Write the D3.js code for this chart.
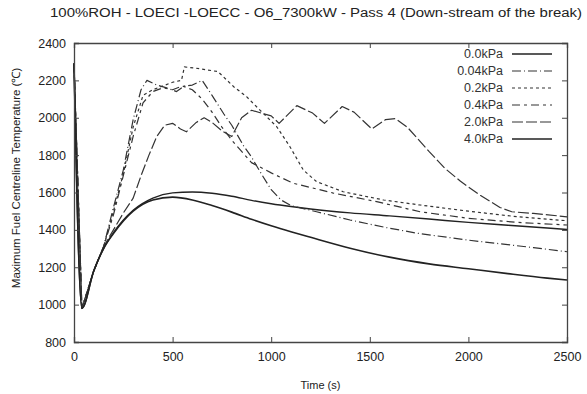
<!DOCTYPE html>
<html>
<head>
<meta charset="utf-8">
<script src="https://cdn.jsdelivr.net/npm/d3@7"></script>
<style>
  html, body { margin: 0; padding: 0; background: #fff; }
  svg { display: block; font-family: 'Liberation Sans', Arial, sans-serif; }
</style>
</head>
<body>
<div id="chart"></div>
<script>
const title = '100%ROH - LOECI -LOECC - O6_7300kW - Pass 4 (Down-stream of the break)'
const xTicks = [0, 500, 1000, 1500, 2000, 2500]
const yTicks = [800, 1000, 1200, 1400, 1600, 1800, 2000, 2200, 2400]
const seriesNames = ['0.0kPa', '0.04kPa', '0.2kPa', '0.4kPa', '2.0kPa', '4.0kPa']

// [time (s), temperature (C)]
const kpa00 = [[0,2290],[40,980],[100,1180],[150,1300],[200,1385],[300,1505],[400,1570],[500,1598],
  [600,1603],[700,1596],[800,1580],[900,1558],[1000,1540],[1100,1525],[1200,1512],[1400,1491],
  [1600,1475],[1800,1458],[2000,1440],[2200,1425],[2400,1410],[2500,1402]]
const kpa004 = [[0,2290],[40,980],[100,1180],[150,1310],[200,1520],[250,1720],[300,1990],[340,2150],
  [370,2200],[420,2175],[470,2160],[520,2140],[560,2170],[600,2175],[650,2200],[700,2120],
  [760,2020],[800,1960],[860,1850],[900,1790],[950,1700],[1000,1615],[1050,1560],[1100,1530],
  [1230,1497],[1400,1453],[1570,1415],[1740,1382],[2000,1345],[2330,1305],[2500,1283]]
const kpa02 = [[0,2290],[40,980],[100,1180],[150,1310],[200,1500],[250,1700],[300,1950],[350,2120],
  [400,2150],[450,2170],[500,2190],[545,2200],[560,2272],[620,2265],[730,2247],[810,2166],
  [875,2113],[943,2041],[1028,1952],[1095,1845],[1163,1720],[1230,1658],[1365,1604],
  [1570,1560],[1755,1533],[2000,1500],[2250,1470],[2500,1449]]
const kpa04 = [[0,2290],[40,980],[100,1180],[150,1310],[200,1480],[250,1690],[300,1900],[350,2080],
  [400,2140],[450,2160],[500,2150],[550,2170],[600,2150],[650,2100],[700,2030],[750,1950],
  [800,1880],[850,1820],[900,1760],[1000,1705],[1110,1650],[1315,1597],[1535,1551],
  [1755,1497],[2000,1462],[2250,1440],[2500,1426]]
const kpa20 = [[0,2290],[40,980],[100,1180],[150,1310],[200,1400],[250,1490],[300,1570],[340,1690],
  [380,1800],[420,1900],[460,1960],[500,1970],[540,1940],[570,1925],[620,1975],[660,2000],
  [700,1975],[750,1930],[800,1900],[850,2000],[900,2040],[1000,2010],[1040,1970],[1130,2065],
  [1210,2025],[1270,1970],[1360,2060],[1420,2030],[1510,1940],[1580,1990],[1630,1995],
  [1690,1950],[1800,1820],[1880,1730],[1960,1660],[2060,1585],[2160,1520],[2220,1497],
  [2330,1488],[2500,1470]]
const kpa40 = [[0,2290],[40,980],[100,1180],[150,1300],[200,1380],[300,1500],[400,1560],[500,1575],
  [600,1560],[700,1530],[800,1495],[900,1457],[1000,1422],[1100,1390],[1200,1360],[1400,1302],
  [1600,1254],[1800,1218],[2000,1192],[2200,1166],[2400,1142],[2500,1132]]

const seriesData = [kpa00, kpa004, kpa02, kpa04, kpa20, kpa40]

function drawChart() {
  const width = 587
  const height = 394
  const margin = { top: 43, right: 20, bottom: 52, left: 74 }
  const w = width - margin.left - margin.right
  const h = height - margin.top - margin.bottom
  const styles = [
    { dash: null, stroke: '#222', sw: 1.4 },
    { dash: '9,3,1,3', stroke: '#333', sw: 1.2 },
    { dash: '3,3', stroke: '#333', sw: 1.2 },
    { dash: '8,4,3,4', stroke: '#333', sw: 1.2 },
    { dash: '11,3', stroke: '#333', sw: 1.2 },
    { dash: null, stroke: '#222', sw: 1.6 }
  ]

  const x = d3.scaleLinear().domain([0, 2500]).range([0, w])
  const y = d3.scaleLinear().domain([800, 2400]).range([h, 0])

  const svg = d3.select('#chart').append('svg')
    .attr('width', width)
    .attr('height', height)

  svg.append('text')
    .attr('x', 316)
    .attr('y', 17)
    .attr('text-anchor', 'middle')
    .attr('font-size', 12)
    .attr('fill', '#222')
    .attr('textLength', 532)
    .attr('lengthAdjust', 'spacingAndGlyphs')
    .text(title)

  const g = svg.append('g')
    .attr('transform', 'translate(' + margin.left + ',' + margin.top + ')')

  // lines
  const line = d3.line()
    .x(d => x(d[0]))
    .y(d => y(d[1]))

  seriesData.forEach(function(data, i) {
    const s = styles[i]
    g.append('path')
      .datum(data)
      .attr('fill', 'none')
      .attr('stroke', s.stroke)
      .attr('stroke-width', s.sw)
      .attr('stroke-dasharray', s.dash)
      .attr('stroke-linejoin', 'round')
      .attr('d', line.curve(s.dash ? d3.curveLinear : d3.curveMonotoneX))
  })

  // axes with inward ticks, mirrored
  const axisColor = '#444'
  const fmt = d3.format('d')
  const axB = g.append('g').attr('transform', 'translate(0,' + h + ')')
    .call(d3.axisBottom(x).tickValues(xTicks).tickSize(-5).tickPadding(10).tickFormat(fmt))
  const axL = g.append('g')
    .call(d3.axisLeft(y).tickValues(yTicks).tickSize(-5).tickPadding(8).tickFormat(fmt))
  const axT = g.append('g')
    .call(d3.axisTop(x).tickValues(xTicks).tickSize(-5).tickFormat(''))
  const axR = g.append('g').attr('transform', 'translate(' + w + ',0)')
    .call(d3.axisRight(y).tickValues(yTicks).tickSize(-5).tickFormat(''))

  ;[axB, axL, axT, axR].forEach(function(ax) {
    ax.select('.domain').attr('stroke', axisColor).attr('stroke-width', 1.3)
    ax.selectAll('.tick line').attr('stroke', axisColor)
    ax.selectAll('text')
      .attr('font-size', 12.5)
      .attr('fill', '#222')
      .attr('font-family', "'Liberation Sans', Arial, sans-serif")
  })

  // axis titles
  svg.append('text')
    .attr('x', margin.left + w / 2)
    .attr('y', 389)
    .attr('text-anchor', 'middle')
    .attr('font-size', 11)
    .attr('fill', '#222')
    .text('Time (s)')

  svg.append('text')
    .attr('transform', 'translate(20,178) rotate(-90)')
    .attr('text-anchor', 'middle')
    .attr('font-size', 11.5)
    .attr('fill', '#222')
    .text('Maximum Fuel Centreline Temperature (\u2103)')

  // legend
  const legend = g.append('g')
    .selectAll('g')
    .data(seriesNames)
    .enter()
    .append('g')
    .attr('transform', (d, i) => 'translate(0,' + (11 + i * 17) + ')')

  legend.append('text')
    .attr('x', 429)
    .attr('dy', '0.35em')
    .attr('text-anchor', 'end')
    .attr('font-size', 12.5)
    .attr('fill', '#333')
    .text(d => d)

  legend.append('line')
    .attr('x1', 438)
    .attr('x2', 478)
    .attr('stroke', (d, i) => styles[i].stroke)
    .attr('stroke-width', (d, i) => styles[i].sw)
    .attr('stroke-dasharray', (d, i) => styles[i].dash)
}

drawChart()
</script>
</body>
</html>
